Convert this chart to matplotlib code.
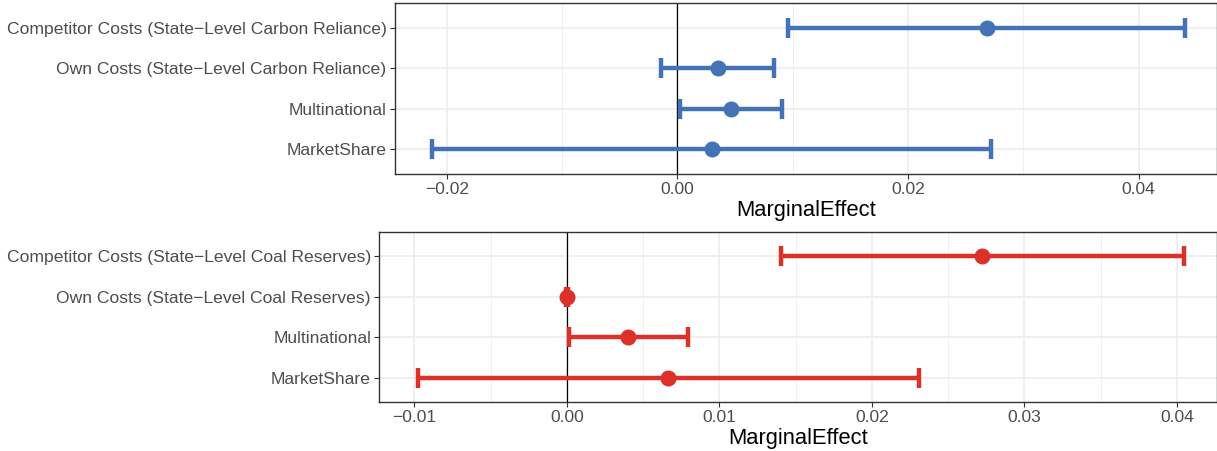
import numpy as np
import matplotlib.pyplot as plt
from matplotlib.ticker import MultipleLocator

plt.rcParams['font.family'] = ['Liberation Sans', 'DejaVu Sans']

# painel de cima: dependencia de carbono
rotulos_carbono = ["Competitor Costs (State\u2212Level Carbon Reliance)",
                   "Own Costs (State\u2212Level Carbon Reliance)",
                   "Multinational",
                   "MarketShare"]
efeito_carbono = [0.02683, 0.0035, 0.00466, 0.00298]
baixo_carbono = [0.00963, -0.00144, 0.00023, -0.02125]
alto_carbono = [0.04397, 0.00841, 0.00905, 0.0272]

# painel de baixo: reservas de carvao
rotulos_carvao = ["Competitor Costs (State\u2212Level Coal Reserves)",
                  "Own Costs (State\u2212Level Coal Reserves)",
                  "Multinational",
                  "MarketShare"]
efeito_carvao = [0.02721, 0.0, 0.00404, 0.00666]
baixo_carvao = [0.01405, -0.00005, 0.00015, -0.00977]
alto_carvao = [0.04043, 0.00005, 0.00793, 0.0231]


def desenhar_painel(ax, rotulos, efeito, baixo, alto, cor, xlim, passo):
    y = np.arange(len(rotulos))[::-1] + 1
    efeito = np.array(efeito)
    erro = [efeito - np.array(baixo), np.array(alto) - efeito]

    ax.axvline(0, color='black', lw=0.9, zorder=2)
    ax.errorbar(efeito, y, xerr=erro, fmt='o', color=cor, ecolor=cor,
                elinewidth=3.2, capsize=7.5, capthick=3.2, markersize=10.5, zorder=3)

    ax.set_xlim(*xlim)
    ax.set_ylim(0.4, len(rotulos) + 0.6)
    ax.set_yticks(y)
    ax.set_yticklabels(rotulos)
    ax.xaxis.set_major_locator(MultipleLocator(passo))
    ax.xaxis.set_minor_locator(MultipleLocator(passo / 2))
    ax.xaxis.set_major_formatter(plt.FuncFormatter(
        lambda v, p: f"{v:.2f}".replace('-', '\u2212')))

    ax.grid(True, which='major', color='#EBEBEB', lw=1.1, zorder=0)
    ax.grid(True, which='minor', axis='x', color='#F0F0F0', lw=0.7, zorder=0)
    ax.set_axisbelow(True)

    ax.tick_params(axis='both', which='major', labelsize=12.6, colors='#333333',
                   labelcolor='#4D4D4D', length=3.5, width=0.8, pad=2.5)
    ax.tick_params(axis='x', which='minor', length=0)
    for s in ax.spines.values():
        s.set_color('#333333')
        s.set_linewidth(1.0)
    ax.set_xlabel('MarginalEffect', fontsize=15.8, color='black', labelpad=2)


fig = plt.figure(figsize=(12.17, 4.51), dpi=100)
ax1 = fig.add_axes([0.3246, 0.6149, 0.6754, 0.3778])
ax2 = fig.add_axes([0.3117, 0.1086, 0.6883, 0.3777])

desenhar_painel(ax1, rotulos_carbono, efeito_carbono, baixo_carbono, alto_carbono,
                '#4472B6', (-0.02448, 0.04678), 0.02)
desenhar_painel(ax2, rotulos_carvao, efeito_carvao, baixo_carvao, alto_carvao,
                '#DC3028', (-0.01229, 0.04262), 0.01)

fig.savefig('out.png', dpi=100)
